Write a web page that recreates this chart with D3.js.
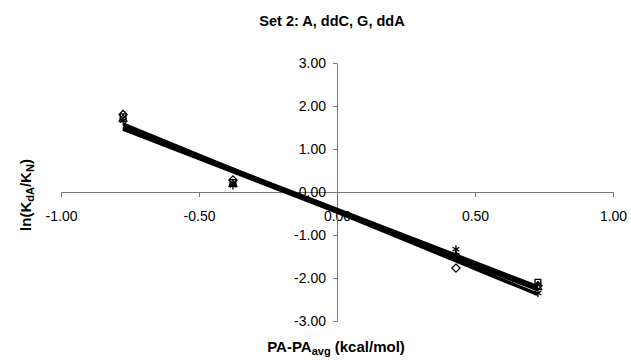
<!DOCTYPE html>
<html>
<head>
<meta charset="utf-8">
<script src="https://cdn.jsdelivr.net/npm/d3@7"></script>
<style>
  body { margin: 0; background: #fff; }
  svg { font-family: Arial, 'Liberation Sans', sans-serif; }
</style>
</head>
<body>
<main></main>
<script>
// Constants
const WIDTH = 631;
const HEIGHT = 360;

// Data
const X_VALUES = [-0.775, -0.377, 0.431, 0.728];
const SERIES_NAMES = ['A', 'ddC', 'G', 'ddA'];
const SERIES_A = [1.80, 0.28, -1.77, -2.18];
const SERIES_DDC = [1.75, 0.22, -1.50, -2.10];
const SERIES_G = [1.70, 0.18, -1.48, -2.22];
const SERIES_DDA = [1.66, 0.15, -1.33, -2.35];
const X_TICKS = [-1, -0.5, 0, 0.5, 1];
const Y_TICKS = [3, 2, 1, 0, -1, -2, -3];

const SYMBOLS = [d3.symbolDiamond2, d3.symbolSquare2, d3.symbolTriangle2, d3.symbolAsterisk];

const series = [SERIES_A, SERIES_DDC, SERIES_G, SERIES_DDA].map((ys, i) => ({
  name: SERIES_NAMES[i],
  symbol: SYMBOLS[i],
  points: ys.map((y, j) => ({ x: X_VALUES[j], y })),
}));

// Least squares trendline
function fit(points) {
  const mx = d3.mean(points, (d) => d.x);
  const my = d3.mean(points, (d) => d.y);
  const sxy = d3.sum(points, (d) => (d.x - mx) * (d.y - my));
  const sxx = d3.sum(points, (d) => (d.x - mx) ** 2);
  const slope = sxy / sxx;
  const intercept = my - slope * mx;
  const [x0, x1] = d3.extent(points, (d) => d.x);
  return [
    { x: x0, y: intercept + slope * x0 },
    { x: x1, y: intercept + slope * x1 },
  ];
}

// Scales
const xScale = d3.scaleLinear([-1, 1], [61, 613]);
const yScale = d3.scaleLinear([-3, 3], [321, 63]);
const fmt = d3.format('.2f');

const svg = d3
  .select('main')
  .append('svg')
  .attr('width', WIDTH)
  .attr('height', HEIGHT);

// Axes
const xAxis = d3
  .axisBottom(xScale)
  .tickValues(X_TICKS)
  .tickFormat((d) => fmt(d).replace('\u2212', '-'))
  .tickSize(5)
  .tickSizeOuter(0)
  .tickPadding(14);

const yAxis = d3
  .axisLeft(yScale)
  .tickValues(Y_TICKS)
  .tickFormat((d) => fmt(d).replace('\u2212', '-'))
  .tickSize(4)
  .tickSizeOuter(0)
  .tickPadding(7);

const gx = svg
  .append('g')
  .attr('transform', `translate(0, ${yScale(0)})`)
  .call(xAxis);

const gy = svg
  .append('g')
  .attr('transform', `translate(${xScale(0)}, 0)`)
  .call(yAxis);

[gx, gy].forEach((g) => {
  g.select('.domain').attr('stroke', '#777').attr('stroke-width', 1);
  g.selectAll('.tick line').attr('stroke', '#777');
  g.selectAll('.tick text')
    .attr('fill', '#000')
    .attr('font-size', 14)
    .attr('font-family', 'Arial, Liberation Sans, sans-serif');
});

// Trendlines
const line = d3
  .line()
  .x((d) => xScale(d.x))
  .y((d) => yScale(d.y));

svg
  .selectAll('path.trend')
  .data(series)
  .enter()
  .append('path')
  .attr('class', 'trend')
  .attr('d', (s) => line(fit(s.points)))
  .attr('fill', 'none')
  .attr('stroke', '#000')
  .attr('stroke-width', 3.5);

// Markers
const groups = svg
  .selectAll('g.series')
  .data(series)
  .enter()
  .append('g')
  .attr('class', 'series');

groups
  .selectAll('path')
  .data((s) => s.points.map((p) => ({ ...p, symbol: s.symbol })))
  .enter()
  .append('path')
  .attr('d', (d) => d3.symbol(d.symbol, 42)())
  .attr('transform', (d) => `translate(${xScale(d.x)}, ${yScale(d.y)})`)
  .attr('fill', 'none')
  .attr('stroke', '#000')
  .attr('stroke-width', 1.3);

// Titles
svg
  .append('text')
  .attr('x', 332)
  .attr('y', 26)
  .attr('text-anchor', 'middle')
  .attr('font-size', 14.5)
  .attr('font-weight', 'bold')
  .text('Set 2: A, ddC, G, ddA');

const xTitle = svg
  .append('text')
  .attr('x', 336)
  .attr('y', 352)
  .attr('text-anchor', 'middle')
  .attr('font-size', 15)
  .attr('font-weight', 'bold');
xTitle.append('tspan').text('PA-PA');
xTitle.append('tspan').attr('font-size', 11).attr('dy', 3).text('avg');
xTitle.append('tspan').attr('dy', -3).text(' (kcal/mol)');

const yTitle = svg
  .append('text')
  .attr('transform', 'translate(31, 195) rotate(-90)')
  .attr('text-anchor', 'middle')
  .attr('font-size', 15)
  .attr('font-weight', 'bold');
yTitle.append('tspan').text('ln(K');
yTitle.append('tspan').attr('font-size', 11).attr('dy', 3).text('dA');
yTitle.append('tspan').attr('dy', -3).text('/K');
yTitle.append('tspan').attr('font-size', 11).attr('dy', 3).text('N');
yTitle.append('tspan').attr('dy', -3).text(')');
</script>
</body>
</html>
